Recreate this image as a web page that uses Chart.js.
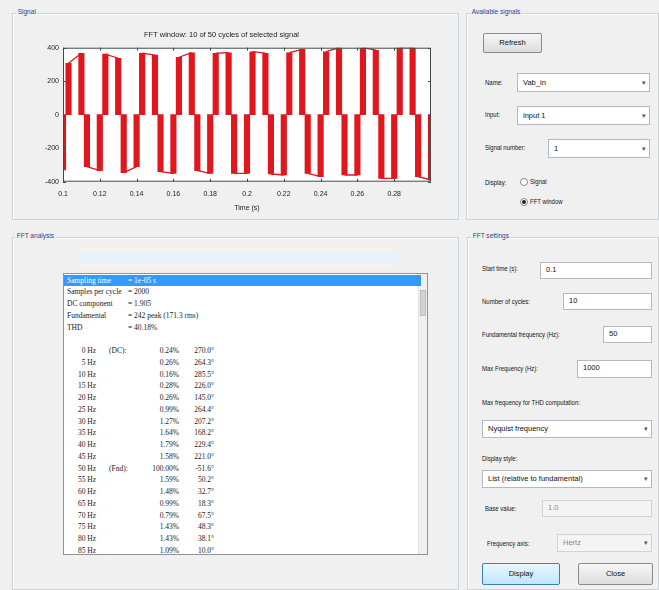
<!DOCTYPE html>
<html lang="en">
<head>
<meta charset="UTF-8">
<title>FFT Analysis</title>
<script src="https://cdn.jsdelivr.net/npm/chart.js"></script>
<style>
  body { margin: 0; background: #f0f0f0; font-family: "Liberation Sans", Arial, sans-serif; }
  #win { position: relative; width: 659px; height: 590px; overflow: hidden; background: #f0f0f0; }
  .panel { position: absolute; border: 1px solid #cdd2d6; box-shadow: inset 1px 1px 0 #fff; }
  .ptitle { position: absolute; font-size: 8px; color: #2b3f95; background: #f0f0f0; padding: 0 2px; white-space: nowrap; transform: scaleX(0.82); transform-origin: left; }
  .lbl { position: absolute; font-size: 7.5px; color: #151515; white-space: nowrap; transform: scaleX(0.8); transform-origin: left; line-height: 9px; }
  .edit { position: absolute; background: #fff; border: 1px solid #b5b8bf; box-sizing: border-box; font-size: 7.5px; line-height: 14px; padding-left: 5px; color: #111; }
  .edit.off { background: #f4f4f4; color: #888; border-color: #d2d2d2; }
  .combo::after { content: "\25BE"; position: absolute; right: 3px; top: 0; font-size: 7px; color: #555; }
  .btn { position: absolute; border: 1px solid #8a8a8a; border-radius: 2px; box-sizing: border-box; background: linear-gradient(#f6f6f6, #dddddd); font-size: 7.5px; text-align: center; color: #111; }
  .btn.def { border-color: #3c7fb1; background: linear-gradient(#eaf6fd, #bee6fd); }
  .radio { position: absolute; width: 6px; height: 6px; border: 1px solid #888; border-radius: 50%; background: #fff; }
  .radio.on::after { content: ""; position: absolute; left: 1px; top: 1px; width: 4px; height: 4px; border-radius: 50%; background: #222; }
  #sig { position: absolute; left: 12px; top: 15px; width: 444px; height: 198px; }
  #list { position: absolute; left: 63px; top: 273px; width: 365px; height: 282px; background: #fff; border: 1px solid #8f949c; box-sizing: border-box; overflow: hidden; font-family: "Liberation Serif", serif; font-size: 7.5px; color: #222; }
  #list .row { position: absolute; left: 0; width: 357px; height: 11.75px; line-height: 11.75px; white-space: nowrap; }
  #list .row.sel { background: #3399ff; color: #fff; }
  #list span { position: absolute; }
  #sb { position: absolute; right: 0; top: 0; width: 8px; height: 100%; background: #f0f0f0; border-left: 1px solid #e2e2e2; }
  #thumb { position: absolute; left: 1px; top: 16px; width: 6px; height: 26px; background: #d4d4d4; border: 1px solid #bdbdbd; box-sizing: border-box; }
  #band { position: absolute; left: 75px; top: 248px; width: 322px; height: 20px; background: linear-gradient(#fcf2e8 0%, #e8f2fb 25%, #e8f2fb 70%, #fcf2e8 100%); }
</style>
</head>
<body>
<div id="win">
  <div class="panel" style="left:12px; top:13px; width:445px; height:205px;"></div>
  <div class="ptitle" style="left:16px; top:7px;">Signal</div>
  <div class="panel" style="left:466px; top:13px; width:191px; height:205px;"></div>
  <div class="ptitle" style="left:470px; top:7px;">Available signals</div>
  <div class="panel" style="left:12px; top:237px; width:445px; height:351px;"></div>
  <div class="ptitle" style="left:15px; top:231px;">FFT analysis</div>
  <div class="panel" style="left:467px; top:237px; width:190px; height:351px;"></div>
  <div class="ptitle" style="left:471px; top:231px;">FFT settings</div>

  <div id="sig"><canvas id="grafico"></canvas></div>

  <!-- Available signals -->
  <div class="btn" style="left:483px; top:33px; width:59px; height:20px; line-height:18px;">Refresh</div>
  <div class="lbl" style="left:485px; top:78px;">Name:</div>
  <div class="edit combo" style="left:517px; top:73px; width:133px; height:19px; line-height:17px;">Vab_in</div>
  <div class="lbl" style="left:485px; top:110px;">Input:</div>
  <div class="edit combo" style="left:517px; top:106px; width:133px; height:19px; line-height:17px;">input 1</div>
  <div class="lbl" style="left:485px; top:143px;">Signal number:</div>
  <div class="edit combo" style="left:548px; top:139px; width:102px; height:19px; line-height:17px;">1</div>
  <div class="lbl" style="left:485px; top:178px;">Display:</div>
  <div class="radio" style="left:520px; top:178px;"></div>
  <div class="lbl" style="left:530px; top:177px;">Signal</div>
  <div class="radio on" style="left:520px; top:198px;"></div>
  <div class="lbl" style="left:530px; top:197px;">FFT window</div>

  <!-- FFT analysis -->
  <div id="band"></div>
  <div id="list"><div id="sb"><div id="thumb"></div></div></div>

  <!-- FFT settings -->
  <div class="lbl" style="left:482px; top:264px;">Start time (s):</div>
  <div class="edit" style="left:540px; top:262px; width:112px; height:17px;">0.1</div>
  <div class="lbl" style="left:482px; top:297px;">Number of cycles:</div>
  <div class="edit" style="left:563px; top:293px; width:89px; height:17px;">10</div>
  <div class="lbl" style="left:482px; top:330px;">Fundamental frequency (Hz):</div>
  <div class="edit" style="left:603px; top:326px; width:49px; height:17px;">50</div>
  <div class="lbl" style="left:482px; top:364px;">Max Frequency (Hz):</div>
  <div class="edit" style="left:577px; top:360px; width:75px; height:18px;">1000</div>
  <div class="lbl" style="left:482px; top:398px;">Max frequency for THD computation:</div>
  <div class="edit combo" style="left:482px; top:420px; width:170px; height:18px; line-height:16px;">Nyquist frequency</div>
  <div class="lbl" style="left:482px; top:454px;">Display style:</div>
  <div class="edit combo" style="left:482px; top:470px; width:170px; height:18px; line-height:16px;">List (relative to fundamental)</div>
  <div class="lbl" style="left:485px; top:504px;">Base value:</div>
  <div class="edit off" style="left:542px; top:500px; width:110px; height:17px;">1.0</div>
  <div class="lbl" style="left:487px; top:539px;">Frequency axis:</div>
  <div class="edit off combo" style="left:557px; top:534px; width:95px; height:18px; line-height:16px;">Hertz</div>
  <div class="btn def" style="left:482px; top:563px; width:78px; height:22px; line-height:20px;">Display</div>
  <div class="btn" style="left:578px; top:563px; width:75px; height:22px; line-height:20px;">Close</div>
</div>

<script>
  // waveform: centres (s) and peaks (V) of the dense switching blocks
  const posBarTime = [0.103, 0.110, 0.123, 0.130, 0.143, 0.150, 0.163, 0.170, 0.183, 0.190,
                      0.203, 0.210, 0.223, 0.230, 0.243, 0.250, 0.263, 0.270, 0.283, 0.290];
  const posBarPeak = [307, 367, 362, 337, 367, 356, 343, 370, 367, 370,
                      376, 367, 370, 390, 376, 400, 400, 385, 400, 400];
  const negBarTime = [0.100, 0.113, 0.120, 0.133, 0.140, 0.153, 0.160, 0.173, 0.180, 0.193, 0.200,
                      0.213, 0.220, 0.233, 0.240, 0.253, 0.260, 0.273, 0.280, 0.293, 0.300];
  const negBarPeak = [-330, -310, -334, -346, -310, -340, -350, -334, -350, -350, -350,
                      -354, -360, -350, -370, -360, -360, -380, -380, -370, -390];

  const xTickValues = [0.1, 0.12, 0.14, 0.16, 0.18, 0.2, 0.22, 0.24, 0.26, 0.28];
  const xTickLabels = ['0.1', '0.12', '0.14', '0.16', '0.18', '0.2', '0.22', '0.24', '0.26', '0.28'];
  const yTickValues = [-400, -200, 0, 200, 400];
  const yTickLabels = ['-400', '-200', '0', '200', '400'];

  // FFT analysis list
  const headerRows = [
    ['Sampling time', '= 1e-05 s'],
    ['Samples per cycle', '= 2000'],
    ['DC component', '= 1.905'],
    ['Fundamental', '= 242 peak (171.3 rms)'],
    ['THD', '= 40.18%']
  ];
  const harmFreq  = ['0 Hz', '5 Hz', '10 Hz', '15 Hz', '20 Hz', '25 Hz', '30 Hz', '35 Hz', '40 Hz',
                     '45 Hz', '50 Hz', '55 Hz', '60 Hz', '65 Hz', '70 Hz', '75 Hz', '80 Hz', '85 Hz'];
  const harmNote  = ['(DC):', '', '', '', '', '', '', '', '', '', '(Fnd):', '', '', '', '', '', '', ''];
  const harmMag   = ['0.24%', '0.26%', '0.16%', '0.28%', '0.26%', '0.99%', '1.27%', '1.64%', '1.79%',
                     '1.58%', '100.00%', '1.59%', '1.48%', '0.99%', '0.79%', '1.43%', '1.43%', '1.09%'];
  const harmPhase = ['270.0°', '264.3°', '285.5°', '226.0°', '145.0°', '264.4°', '207.2°', '168.2°', '229.4°',
                     '221.0°', '-51.6°', '50.2°', '32.7°', '18.3°', '67.5°', '48.3°', '38.1°', '10.0°'];

  const list = document.getElementById('list');
  function addRow(i, cells, sel) {
    const r = document.createElement('div');
    r.className = 'row' + (sel ? ' sel' : '');
    r.style.top = (0.5 + i * 11.75) + 'px';
    cells.forEach(c => {
      const s = document.createElement('span');
      s.textContent = c[0];
      if (c[2]) { s.style.right = (357 - c[1]) + 'px'; } else { s.style.left = c[1] + 'px'; }
      r.appendChild(s);
    });
    list.appendChild(r);
  }
  headerRows.forEach((h, i) => addRow(i, [[h[0], 3], [h[1], 64]], i === 0));
  harmFreq.forEach((f, i) => addRow(6 + i, [[f, 32, true], [harmNote[i], 45], [harmMag[i], 115, true], [harmPhase[i], 150, true]], false));

  // signal plot
  const red = '#e0171d';
  const bars = posBarTime.map((t, i) => ({x: t, y: [0, posBarPeak[i]]}))
    .concat(negBarTime.map((t, i) => ({x: t, y: [0, negBarPeak[i]]})));
  const topLine = [];
  for (let i = 0; i + 1 < posBarTime.length; i += 2) {
    topLine.push({x: posBarTime[i], y: posBarPeak[i]}, {x: posBarTime[i + 1], y: posBarPeak[i + 1]}, {x: posBarTime[i + 1], y: null});
  }
  const bottomLine = [];
  for (let i = 1; i + 1 < negBarTime.length; i += 2) {
    bottomLine.push({x: negBarTime[i], y: negBarPeak[i]}, {x: negBarTime[i + 1], y: negBarPeak[i + 1]}, {x: negBarTime[i + 1], y: null});
  }

  const marco = {
    id: 'marco',
    beforeDraw(c) {
      const a = c.chartArea, g = c.ctx;
      g.save(); g.fillStyle = '#fff'; g.fillRect(a.left, a.top, a.right - a.left, a.bottom - a.top); g.restore();
    },
    afterDraw(c) {
      const a = c.chartArea, g = c.ctx, sx = c.scales.x, sy = c.scales.y;
      g.save();
      g.strokeStyle = '#3a4a4a'; g.lineWidth = 1;
      g.strokeRect(a.left + 0.5, a.top + 0.5, a.right - a.left - 1, a.bottom - a.top - 1);
      g.beginPath();
      xTickValues.forEach(v => {
        const p = Math.round(sx.getPixelForValue(v)) + 0.5;
        g.moveTo(p, a.bottom); g.lineTo(p, a.bottom - 3);
        g.moveTo(p, a.top); g.lineTo(p, a.top + 3);
      });
      yTickValues.forEach(v => {
        const p = Math.round(sy.getPixelForValue(v)) + 0.5;
        g.moveTo(a.left, p); g.lineTo(a.left + 3, p);
        g.moveTo(a.right, p); g.lineTo(a.right - 3, p);
      });
      g.stroke();
      g.restore();
    }
  };

  const ctx = document.getElementById('grafico').getContext('2d');
  const chart = new Chart(ctx, {
    type: 'bar',
    data: {
      datasets: [
        {data: bars, backgroundColor: red, borderWidth: 0, barThickness: 5.5, grouped: false, clip: 0},
        {type: 'line', data: topLine, borderColor: red, borderWidth: 1.3, pointRadius: 0, spanGaps: false, clip: 0},
        {type: 'line', data: bottomLine, borderColor: red, borderWidth: 1.3, pointRadius: 0, spanGaps: false, clip: 0}
      ]
    },
    options: {
      responsive: true,
      maintainAspectRatio: false,
      animation: false,
      layout: {padding: {right: 25, left: 0, top: 0, bottom: 0}},
      plugins: {
        legend: {display: false},
        tooltip: {enabled: false},
        title: {display: true, text: 'FFT window: 10 of 50 cycles of selected signal', color: '#222',
                font: {size: 7.5, weight: 'normal', family: 'Liberation Sans'}, padding: {top: 15, bottom: 8.7}}
      },
      scales: {
        x: {
          type: 'linear', min: 0.1, max: 0.3, offset: false,
          afterBuildTicks: s => { s.ticks = xTickValues.map(v => ({value: v})); },
          afterFit: s => { s.height = 31.3; },
          ticks: {callback: (v, i) => xTickLabels[i], autoSkip: false, maxRotation: 0, padding: 8,
                  color: '#222', font: {size: 7, family: 'Liberation Sans'}},
          grid: {display: false, drawTicks: false, offset: false},
          border: {display: false},
          title: {display: true, text: 'Time (s)', color: '#222', font: {size: 7, family: 'Liberation Sans'}, padding: {top: 0, bottom: 1}}
        },
        y: {
          min: -400, max: 400,
          afterBuildTicks: s => { s.ticks = yTickValues.map(v => ({value: v})); },
          afterFit: s => { s.width = 51; },
          ticks: {callback: (v, i) => yTickLabels[i], padding: 4, color: '#222', font: {size: 7, family: 'Liberation Sans'}},
          grid: {display: false, drawTicks: false},
          border: {display: false}
        }
      }
    },
    plugins: [marco]
  });
</script>
</body>
</html>
